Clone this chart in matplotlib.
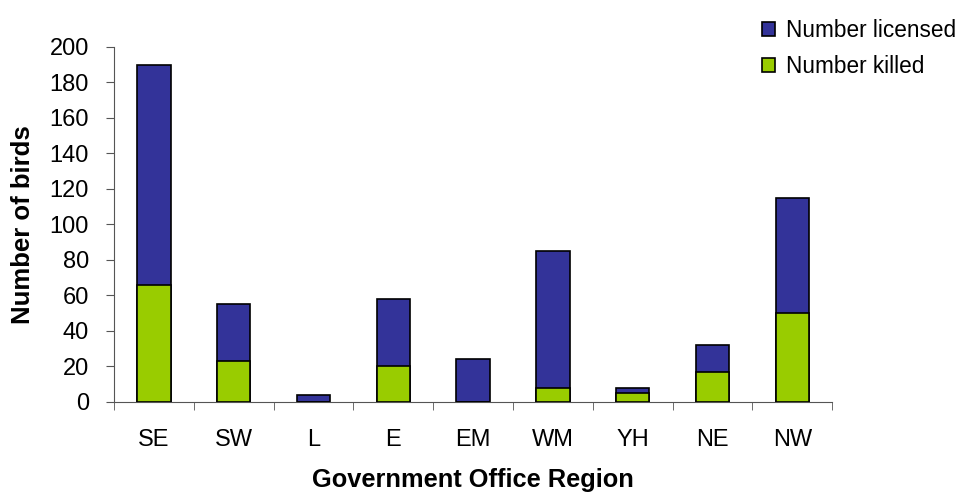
import matplotlib
matplotlib.use('Agg')
import matplotlib.pyplot as plt
import numpy as np

plt.rcParams['font.family'] = ['Liberation Sans', 'DejaVu Sans']

# Datos
regiones = ['SE', 'SW', 'L', 'E', 'EM', 'WM', 'YH', 'NE', 'NW']
licenciados = [190, 55, 4, 58, 24, 85, 8, 32, 115]
muertos = [66, 23, 0, 20, 0, 8, 5, 17, 50]

azul = '#333399'
verde = '#99CC00'

fig = plt.figure(figsize=(9.61, 4.92), dpi=100)
ax = fig.add_axes([0.1186, 0.183, 0.7474, 0.7215])

x = np.arange(len(regiones))
ancho = 0.42
b1 = ax.bar(x, licenciados, width=ancho, color=azul, edgecolor='black', linewidth=1.2,
            label='Number licensed', zorder=2)
b2 = ax.bar(x, muertos, width=ancho, color=verde, edgecolor='black', linewidth=1.2,
            label='Number killed', zorder=3)

ax.set_xlim(-0.5, len(regiones) - 0.5)
ax.set_ylim(0, 200)
ax.set_yticks(range(0, 201, 20))
ax.set_xticks(x)
ax.set_xticklabels(regiones)
ax.set_xticks(np.arange(-0.5, len(regiones)), minor=True)
ax.tick_params(axis='x', which='major', length=0, pad=19.5, labelsize=17)
ax.tick_params(axis='x', which='minor', length=6, direction='out', color='#555555')
ax.tick_params(axis='y', length=6, direction='out', labelsize=17, color='#555555', pad=12)

for lado in ['top', 'right']:
    ax.spines[lado].set_visible(False)
ax.spines['left'].set_color('#555555')
ax.spines['bottom'].set_color('#555555')

ax.set_xlabel('Government Office Region', fontsize=18.3, fontweight='bold', labelpad=12.5)
ax.set_ylabel('Number of birds', fontsize=18.5, fontweight='bold', labelpad=10.5)

fig.legend(handles=[b1, b2], loc='upper left', bbox_to_anchor=(0.793, 0.962),
           frameon=False, fontsize=16.3, handlelength=0.55, handleheight=0.55,
           handletextpad=0.52, labelspacing=0.6, borderpad=0, borderaxespad=0)

fig.savefig('out.png', dpi=100)
